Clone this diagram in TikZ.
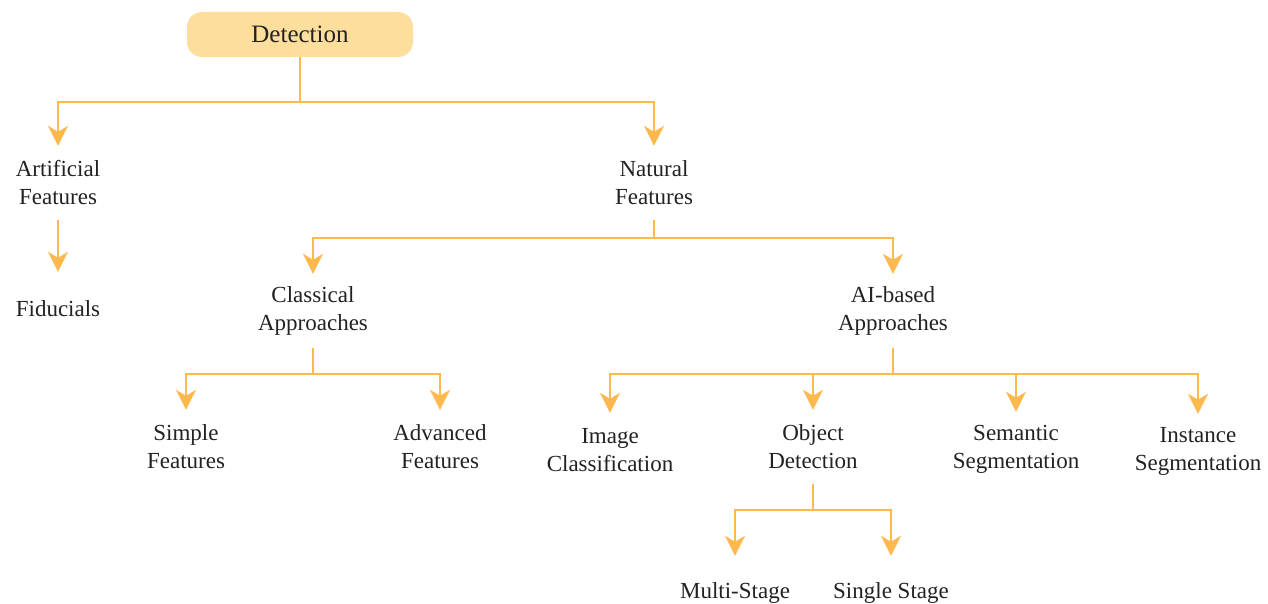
\documentclass[tikz,border=0pt]{standalone}
\usepackage{fontspec}
\setmainfont{Liberation Serif}
\usetikzlibrary{arrows.meta}
\definecolor{lineor}{HTML}{FDB94E}
\definecolor{fillor}{HTML}{FDDE9C}
\definecolor{txt}{HTML}{222222}
\begin{document}
\begin{tikzpicture}[x=1pt,y=-1pt,
  lbl/.style={align=center, inner sep=0pt, minimum height=74pt, font=\fontsize{23}{28}\selectfont, text=txt},
  topbox/.style={draw=none, fill=fillor, rounded corners=15pt, minimum width=226pt, minimum height=45pt, inner sep=0pt, font=\fontsize{25}{30}\selectfont, text=txt},
  conn/.style={draw=lineor, line width=2pt},
  arr/.style={conn, -{Stealth[length=20pt,width=20pt,inset=6pt]}},
]
\useasboundingbox (0,0) rectangle (1268,604);

\node[topbox] (det) at (300,34.5) {\raisebox{-1.5pt}{Detection}};
\node[lbl] (art) at (58,183) {Artificial\\Features};
\node[lbl] (fid) at (58,309) {Fiducials};
\node[lbl] (nat) at (654,183) {Natural\\Features};
\node[lbl] (cla) at (313,311) {Classical\\Approaches};
\node[lbl] (aib) at (893,311) {AI-based\\Approaches};
\node[lbl] (sim) at (186,447) {Simple\\Features};
\node[lbl] (adv) at (440,447) {Advanced\\Features};
\node[lbl] (img) at (610,450) {Image\\Classification};
\node[lbl] (obj) at (813,447) {Object\\Detection};
\node[lbl] (sem) at (1016,449) {Semantic\\Segmentation};
\node[lbl] (ins) at (1198,451) {Instance\\Segmentation};
\node[lbl] (mul) at (735,593) {Multi-Stage};
\node[lbl] (sin) at (891,593) {Single Stage};

\draw[arr] (det.south) -- ++(0,45) -| (art.north);
\draw[arr] (det.south) -- ++(0,45) -| (nat.north);
\draw[arr] (art) -- (fid);
\draw[arr] (nat.south) -- ++(0,18) -| (cla.north);
\draw[arr] (nat.south) -- ++(0,18) -| (aib.north);
\draw[arr] (cla.south) -- ++(0,26) -| (sim.north);
\draw[arr] (cla.south) -- ++(0,26) -| (adv.north);
\draw[arr] (aib.south) -- ++(0,26) -| (img.north);
\draw[arr] (aib.south) -- ++(0,26) -| (obj.north);
\draw[arr] (aib.south) -- ++(0,26) -| (sem.north);
\draw[arr] (aib.south) -- ++(0,26) -| (ins.north);
\draw[arr] (obj.south) -- ++(0,26) -| (mul.north);
\draw[arr] (obj.south) -- ++(0,26) -| (sin.north);
\end{tikzpicture}
\end{document}
